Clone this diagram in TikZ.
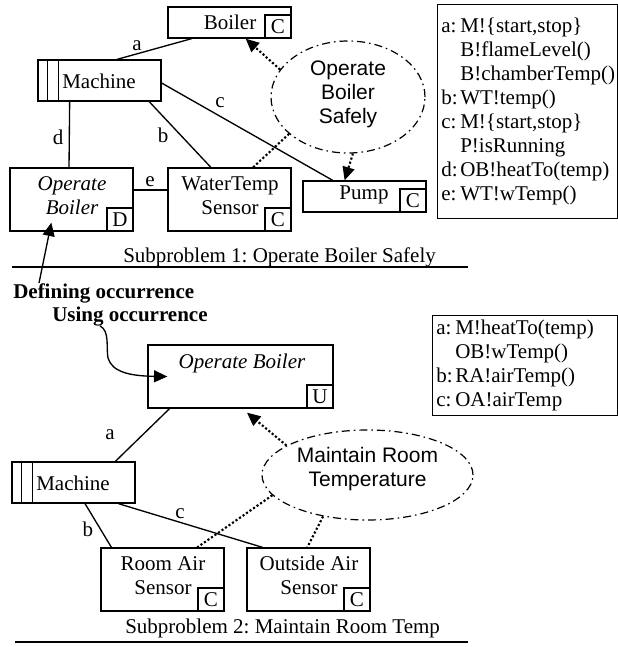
\documentclass[tikz,border=0pt]{standalone}
\usepackage{fontspec}
\setmainfont{Liberation Serif}
\newfontfamily\sansf{Liberation Sans}
\usetikzlibrary{arrows.meta,shapes.geometric,calc}
\def\pxu{0.75pt}
\def\fs{\fontsize{15.75}{18}\selectfont\frenchspacing}
\tikzset{
  box/.style={draw, line width=1pt, inner sep=0pt},
  tagbox/.style={draw, line width=1pt, minimum width=26*\pxu, minimum height=23*\pxu, inner sep=0pt, anchor=south east, font=\fs},
  conn/.style={line width=1pt},
  dotarrow/.style={line width=1.6pt, dash pattern=on 1.6pt off 1.6pt, -{Triangle[length=10pt,width=9pt]}},
  dotline/.style={line width=1.6pt, dash pattern=on 1.6pt off 1.6pt},
  goal/.style={ellipse, draw, line width=0.9pt, dash pattern=on 6pt off 3pt on 1.2pt off 3pt, inner sep=0pt},
  goaltext/.style={inner sep=0pt, align=center, font=\sansf\fs},
  txt/.style={inner sep=0pt, font=\fs},
  itxt/.style={inner sep=0pt, align=center, font=\fs\itshape},
  ctxt/.style={inner sep=0pt, align=center, font=\fs},
  btxt/.style={inner sep=0pt, font=\fs\bfseries},
  legend/.style={draw, line width=0.7pt, inner sep=0pt, anchor=north west},
  legtext/.style={inner sep=0pt, anchor=west, font=\fs},
  arr/.style={line width=1pt, -{Triangle[length=10pt,width=9pt]}},
  rule/.style={line width=1pt}
}
\begin{document}
\begin{tikzpicture}[x=0.75pt,y=-0.75pt,font=\fs]
\useasboundingbox (0,0) rectangle (618,647);

% ---------------- Subproblem 1 ----------------
\node[box, minimum width=123*\pxu, minimum height=31*\pxu] (boiler) at (229.5,22.5) {};
\node[ctxt] (boilert) at (230,22.5) {Boiler};
\node[tagbox] (boilerC) at (boiler.south east) {C};

\node[box, minimum width=123*\pxu, minimum height=41*\pxu] (machine) at (99.5,80.5) {};
\draw[conn] ($(machine.north west)+(10,0)$) -- ($(machine.south west)+(10,0)$);
\draw[conn] ($(machine.north west)+(21,0)$) -- ($(machine.south west)+(21,0)$);
\node[txt, anchor=west] (machinet) at (62,81) {Machine};

\node[box, minimum width=123*\pxu, minimum height=63*\pxu] (ob1) at (71.5,199.5) {};
\node[itxt] (ob1t) at (72,195.5) {Operate\\Boiler};
\node[tagbox] (ob1D) at (ob1.south east) {D};

\node[box, minimum width=123*\pxu, minimum height=63*\pxu] (wt) at (229.5,199.5) {};
\node[ctxt] (wtt) at (230,195.5) {WaterTemp\\Sensor};
\node[tagbox] (wtC) at (wt.south east) {C};

\node[box, minimum width=123*\pxu, minimum height=31*\pxu] (pump) at (364.5,196.5) {};
\node[ctxt] (pumpt) at (364,195) {Pump};
\node[tagbox] (pumpC) at (pump.south east) {C};

\node[goal, minimum width=154*\pxu, minimum height=112*\pxu] (ell1) at (348,97) {};
\node[goaltext] (ell1t) at (348,94) {Operate\\Boiler\\Safely};

% connectors
\draw[conn] ($(machine.north west)!0.642!(machine.north east)$) -- ($(boiler.south west)!0.195!(boiler.south east)$);
\draw[conn] ($(machine.south west)!0.26!(machine.south east)$) -- ($(ob1.north west)!0.48!(ob1.north east)$);
\draw[conn] ($(machine.south west)!0.90!(machine.south east)$) -- ($(wt.north west)!0.35!(wt.north east)$);
\draw[conn] ($(machine.north east)!0.56!(machine.south east)$) -- ($(pump.north west)!0.244!(pump.north east)$);
\draw[conn] ($(ob1.north east)!0.35!(ob1.south east)$) -- ($(wt.north west)!0.35!(wt.south west)$);
\node[txt] (la) at (137,46) {a};
\node[txt] (ld) at (58,137) {d};
\node[txt] (lb) at (163,135) {b};
\node[txt] (lc) at (220,103) {c};
\node[txt] (le) at (150,182) {e};

\draw[dotarrow] (ell1.158) -- ($(boiler.south west)!0.63!(boiler.south east)$);
\draw[dotarrow] (ell1.275) -- ($(pump.north west)!0.34!(pump.north east)$);
\draw[dotline] (ell1.212) -- ($(wt.north west)!0.69!(wt.north east)$);

% legend 1
\node[legend, minimum width=180*\pxu, minimum height=214*\pxu] (leg1) at (437,4) {};
\node[legtext] (leg1t) at ($(leg1.west)+(4,0)$) {\begin{tabular}{@{}l@{\hspace{2pt}}l@{}}
a: & M!\{start,stop\}\\
   & B!flameLevel()\\
   & B!chamberTemp()\\
b: & WT!temp()\\
c: & M!\{start,stop\}\\
   & P!isRunning\\
d: & OB!heatTo(temp)\\
e: & WT!wTemp()
\end{tabular}};

\node[txt, anchor=west] (sub1) at (123,257) {Subproblem 1: Operate Boiler Safely};
\coordinate (r1a) at (12,267);
\coordinate (r1b) at (468,267);
\draw[rule] (r1a) -- (r1b);

% occurrences
\node[btxt, anchor=west] (def) at (13,293) {Defining occurrence};
\node[btxt, anchor=west] (use) at (52,317) {Using occurrence};
\draw[arr] ($(def.north west)+(26,0)$) -- ($(ob1.south west)+(42,-9)$);

% ---------------- Subproblem 2 ----------------
\node[box, minimum width=185*\pxu, minimum height=63*\pxu] (ob2) at (240.5,376.5) {};
\node[itxt] (ob2t) at (242,363) {Operate Boiler};
\node[tagbox] (ob2U) at (ob2.south east) {U};

\draw[arr] ($(use.south west)+(48,-1)$) .. controls +(10,5) and +(-2,-10) .. (108,358) .. controls (112,372) and (130,376) .. ($(ob2.west)+(20,0)$);

\node[box, minimum width=123*\pxu, minimum height=41*\pxu] (machine2) at (73.5,482.5) {};
\draw[conn] ($(machine2.north west)+(10,0)$) -- ($(machine2.south west)+(10,0)$);
\draw[conn] ($(machine2.north west)+(21,0)$) -- ($(machine2.south west)+(21,0)$);
\node[txt, anchor=west] (machine2t) at (36,483) {Machine};

\node[box, minimum width=123*\pxu, minimum height=63*\pxu] (room) at (162.5,579.5) {};
\node[ctxt] (roomt) at (163,575.5) {Room Air\\Sensor};
\node[tagbox] (roomC) at (room.south east) {C};

\node[box, minimum width=123*\pxu, minimum height=63*\pxu] (outs) at (308.5,579.5) {};
\node[ctxt] (outst) at (309,575.5) {Outside Air\\Sensor};
\node[tagbox] (outsC) at (outs.south east) {C};

\node[goal, minimum width=211*\pxu, minimum height=90*\pxu] (ell2) at (367.5,475) {};
\node[goaltext] (ell2t) at (367.5,469.5) {Maintain Room\\Temperature};

\draw[conn] ($(machine2.north west)!0.837!(machine2.north east)$) -- ($(ob2.south west)!0.119!(ob2.south east)$);
\draw[conn] ($(machine2.south west)!0.593!(machine2.south east)$) -- ($(room.north west)!0.089!(room.north east)$);
\draw[conn] ($(machine2.south west)!0.862!(machine2.south east)$) -- ($(outs.north west)!0.13!(outs.north east)$);
\node[txt] (la2) at (110,435) {a};
\node[txt] (lb2) at (88,529) {b};
\node[txt] (lc2) at (180,514) {c};

\draw[dotarrow] (ell2.160) -- ($(ob2.south west)!0.535!(ob2.south east)+(0,4)$);
\draw[dotline] (ell2.192) -- ($(room.north west)!0.78!(room.north east)$);
\draw[dotline] (ell2.223) -- ($(outs.north west)!0.49!(outs.north east)$);

% legend 2
\node[legend, minimum width=185*\pxu, minimum height=100*\pxu] (leg2) at (432,315) {};
\node[legtext] (leg2t) at ($(leg2.west)+(4,0)$) {\begin{tabular}{@{}l@{\hspace{2pt}}l@{}}
a: & M!heatTo(temp)\\
   & OB!wTemp()\\
b: & RA!airTemp()\\
c: & OA!airTemp
\end{tabular}};

\node[txt, anchor=west] (sub2) at (125,628) {Subproblem 2: Maintain Room Temp};
\coordinate (r2a) at (15,642);
\coordinate (r2b) at (468,642);
\draw[rule] (r2a) -- (r2b);
\end{tikzpicture}
\end{document}
